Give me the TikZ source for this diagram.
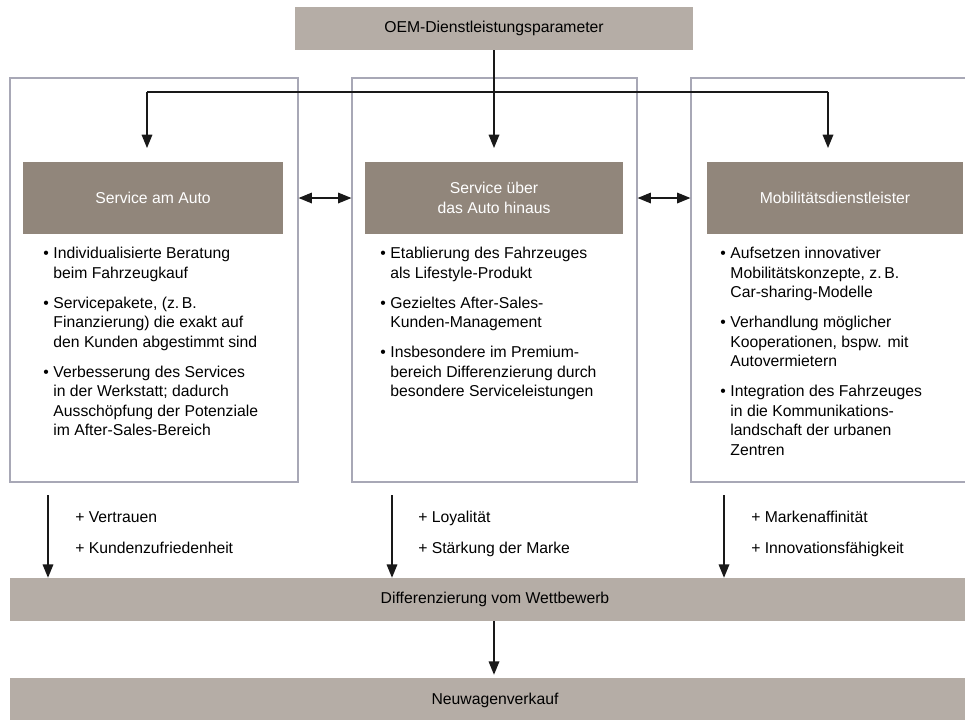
\documentclass[tikz,border=0pt]{standalone}
\usepackage{fontspec}
\setmainfont{Liberation Sans}
\usetikzlibrary{arrows.meta,fit,calc}
\definecolor{bandgrey}{RGB}{181,173,166}
\definecolor{headgrey}{RGB}{145,134,123}
\definecolor{frameline}{RGB}{168,168,182}
\definecolor{linkline}{RGB}{25,25,25}
\newcommand{\bul}{\makebox[7.6pt][l]{\textbullet}}
\newcommand{\ind}{\hspace*{7.6pt}}
\begin{document}
\begin{tikzpicture}[x=0.75pt,y=-0.75pt,
  font=\fontsize{11.8}{14.6}\selectfont,
  band/.style={fill=bandgrey, draw=none, inner sep=0pt},
  header/.style={fill=headgrey, draw=none, inner sep=0pt, text=white, align=center,
    minimum height=54pt},
  frame/.style={draw=frameline, line width=0.9pt, inner sep=0pt},
  link/.style={draw=linkline, line width=0.9pt},
  tip/.style={-{Triangle[length=10pt,width=8pt]}},
  twotip/.style={{Triangle[length=10pt,width=8pt]}-{Triangle[length=10pt,width=8pt]}},
  bullets/.style={anchor=north west, inner sep=0pt, align=left},
  gain/.style={anchor=west, inner sep=0pt, align=left}
]
\clip (0,0) rectangle (965,719);

% top parameter box
\node[band, minimum width=298.5pt, minimum height=32.25pt] (top) at (494,28.5)
  {OEM-Dienstleistungsparameter};

% three columns
\node[frame, fit={(10,78) (298,482)}] (boxL) {};
\node[frame, fit={(352,78) (637,482)}] (boxM) {};
\node[frame, fit={(691,78) (985,482)}] (boxR) {};

\node[header, minimum width=195pt] (hL) at (153,198) {Service am Auto};
\node[header, minimum width=193.5pt] (hM) at (494,198) {Service über\\das Auto hinaus};
\node[header, minimum width=192pt] (hR) at (835,198) {Mobilitätsdienstleister};

% distribution lines from the top box
\coordinate (jL) at (147,92);
\coordinate (jM) at (494,92);
\coordinate (jR) at (828,92);
\coordinate (eL) at (147,148);
\coordinate (eM) at (494,148);
\coordinate (eR) at (828,148);
\draw[link] (jL) -- (jR);
\draw[link, tip] (top.south) -- (eM);
\draw[link, tip] (jL) -- (eL);
\draw[link, tip] (jR) -- (eR);

% mutual links between the columns
\draw[link, twotip] (boxL.east |- hL.center) -- (boxM.west |- hL.center);
\draw[link, twotip] (boxM.east |- hM.center) -- (boxR.west |- hM.center);

% bullet lists
\node[bullets] (lL) at (43,245) {\strut\bul Individualisierte Beratung\\
\ind beim Fahrzeugkauf\\[7.9pt]
\bul Servicepakete, (z.\,B.\\
\ind Finanzierung) die exakt auf\\
\ind den Kunden abgestimmt sind\\[7.9pt]
\bul Verbesserung des Services\\
\ind in der Werkstatt; dadurch\\
\ind Ausschöpfung der Potenziale\\
\ind im After-Sales-Bereich};

\node[bullets] (lM) at (380,245) {\strut\bul Etablierung des Fahrzeuges\\
\ind als Lifestyle-Produkt\\[7.9pt]
\bul Gezieltes After-Sales-\\
\ind Kunden-Management\\[7.9pt]
\bul Insbesondere im Premium-\\
\ind bereich Differenzierung durch\\
\ind besondere Serviceleistungen};

\node[bullets] (lR) at (720,245) {\strut\bul Aufsetzen innovativer\\
\ind Mobilitätskonzepte, z.\,B.\\
\ind Car-sharing-Modelle\\[7.9pt]
\bul Verhandlung möglicher\\
\ind Kooperationen, bspw. mit\\
\ind Autovermietern\\[7.9pt]
\bul Integration des Fahrzeuges\\
\ind in die Kommunikations-\\
\ind landschaft der urbanen\\
\ind Zentren};

% bottom bands
\node[band, minimum width=727.5pt, minimum height=32.25pt] (diff) at (495,599.5)
  {Differenzierung vom Wettbewerb};
\node[band, minimum width=727.5pt, minimum height=33pt] (neu) at (495,700)
  {Neuwagenverkauf};

% contributions of each column
\coordinate (sL) at (48,495);
\coordinate (sM) at (392,495);
\coordinate (sR) at (724,495);
\draw[link, tip] (sL) -- (sL |- diff.north);
\draw[link, tip] (sM) -- (sM |- diff.north);
\draw[link, tip] (sR) -- (sR |- diff.north);

\node[gain] (gL) at (75,534) {\strut + Vertrauen\\[8.6pt]\strut + Kundenzufriedenheit};
\node[gain] (gM) at (418,534) {\strut + Loyalität\\[8.6pt]\strut + Stärkung der Marke};
\node[gain] (gR) at (751,534) {\strut + Markenaffinität\\[8.6pt]\strut + Innovationsfähigkeit};

\draw[link, tip] (diff.south -| jM) -- ($(neu.north -| jM)+(0,-3)$);
\end{tikzpicture}
\end{document}
